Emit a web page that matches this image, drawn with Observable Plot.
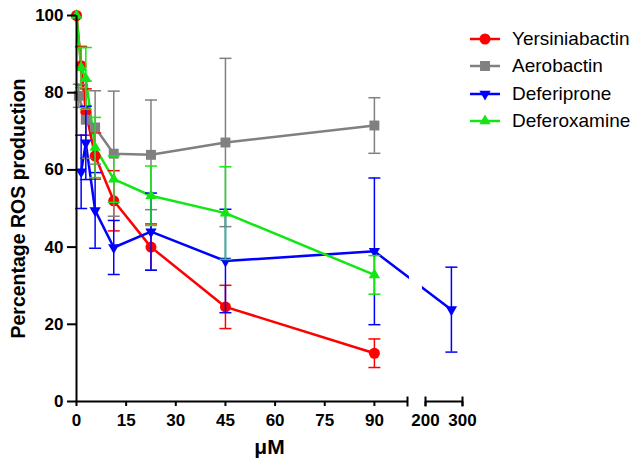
<!DOCTYPE html>
<html>
<head>
<meta charset="utf-8">
<script src="https://cdn.jsdelivr.net/npm/d3@7"></script>
<script src="https://cdn.jsdelivr.net/npm/@observablehq/plot@0.6"></script>
<style>
  body { margin: 0; background: #fff; font-family: "Liberation Sans", Arial, sans-serif; }
  #wrap { position: relative; width: 642px; height: 463px; overflow: hidden; }
  #legend { position: absolute; left: 468px; top: 25px; }
  .row { display: flex; align-items: center; height: 27.5px; font-size: 19px; color: #000; }
  .row svg { margin-right: 10px; }
</style>
</head>
<body>
<div id="wrap"><div id="legend"></div></div>
<script>
// ---- data ----
const seriesNames = ["Yersiniabactin", "Aerobactin", "Deferiprone", "Deferoxamine"];

const yersConc = [0, 1.40625, 2.8125, 5.625, 11.25, 22.5, 45, 90];
const yersVal  = [100, 87, 75, 63.6, 52, 40, 24.5, 12.5];
const yersErr  = [0, 5, 6, 6, 7.8, 6, 5.6, 3.7];

const aeroConc = [0.7, 2.8125, 5.625, 11.25, 22.5, 45, 90];
const aeroVal  = [79.2, 73, 71, 64.2, 63.9, 67.1, 71.5];
const aeroErr  = [3, 10, 9.5, 16.2, 14.2, 21.8, 7.2];

const defpConc = [1.40625, 2.8125, 5.625, 11.25, 22.5, 45, 90, 270];
const defpVal  = [59.5, 67, 49.5, 39.9, 44, 36.4, 38.9, 23.8];
const defpErr  = [9.5, 9.5, 9.8, 7, 10, 13.4, 19, 11];

const defoConc = [0, 1.40625, 2.8125, 5.625, 11.25, 22.5, 45, 90];
const defoVal  = [100, 86.5, 83.7, 65.8, 57.6, 53.3, 48.8, 32.8];
const defoErr  = [0, 5.2, 8, 7.8, 6, 7.7, 12, 5];

const xTicks = [0, 15, 30, 45, 60, 75, 90, 200, 300];
const yTicks = [0, 20, 40, 60, 80, 100];
const xDomain = [0, 100, 200, 300];           // broken axis: 0–100 | 200–300
const axisSegments = [{a: 0, b: 100}, {a: 200, b: 300}];
const segmentEnds = [100, 200, 300];
const breakGap = [{a: 111, b: 183}];

// ---- styles ----
const colors = ["#ff0000", "#808080", "#0000ff", "#14e614"];
const symbols = ["circle", "square", "triangle", "triangle"];
const rotations = [0, 0, 180, 0];
const radii = [5.5, 5.6, 4.2, 4.2];

const hLine = {draw(ctx, size) { const r = Math.sqrt(size / Math.PI); ctx.moveTo(-r, 0); ctx.lineTo(r, 0); }};
const vLine = {draw(ctx, size) { const r = Math.sqrt(size / Math.PI); ctx.moveTo(0, -r); ctx.lineTo(0, r); }};

function rows(conc, val, err) {
  return conc.map((c, i) => ({x: c, y: val[i], e: err[i]}));
}
const series = [
  rows(yersConc, yersVal, yersErr),
  rows(aeroConc, aeroVal, aeroErr),
  rows(defpConc, defpVal, defpErr),
  rows(defoConc, defoVal, defoErr)
];

const marks = [];
series.forEach((d, i) => {
  marks.push(Plot.line(d, {x: "x", y: "y", stroke: colors[i], strokeWidth: 2.5}));
});
// gap in the line where the axis is broken
marks.push(Plot.rect(breakGap, {x1: "a", x2: "b", fill: "white"}));
series.forEach((d, i) => {
  const withErr = d.filter(r => r.e > 0);
  marks.push(Plot.ruleX(withErr, {x: "x", y1: r => r.y - r.e, y2: r => r.y + r.e, stroke: colors[i], strokeWidth: 1.5}));
  marks.push(Plot.dot(withErr, {x: "x", y: r => r.y - r.e, symbol: hLine, r: 6, fill: "none", stroke: colors[i], strokeWidth: 1.5}));
  marks.push(Plot.dot(withErr, {x: "x", y: r => r.y + r.e, symbol: hLine, r: 6, fill: "none", stroke: colors[i], strokeWidth: 1.5}));
  marks.push(Plot.dot(d, {x: "x", y: "y", symbol: symbols[i], r: radii[i], fill: colors[i], stroke: "none", rotate: rotations[i]}));
});

// axes
marks.push(Plot.ruleX([0], {y1: 0, y2: 100, stroke: "black", strokeWidth: 2}));
marks.push(Plot.ruleY(axisSegments, {x1: "a", x2: "b", y: 0, stroke: "black", strokeWidth: 2}));
marks.push(Plot.dot(segmentEnds, {x: d => d, y: 0, symbol: vLine, r: 5, fill: "none", stroke: "black", strokeWidth: 2}));
marks.push(Plot.axisY({ticks: yTicks, tickSize: 9, tickPadding: 4, strokeWidth: 2, label: null, fontSize: 17, fontWeight: "bold"}));
marks.push(Plot.axisX({ticks: xTicks, tickSize: 5, tickPadding: 7, strokeWidth: 2, label: null, fontSize: 17, fontWeight: "bold"}));
marks.push(Plot.text(["μM"], {frameAnchor: "bottom", dy: 52, fontSize: 21, fontWeight: "bold"}));
marks.push(Plot.text(["Percentage ROS production"], {frameAnchor: "left", textAnchor: "middle", dx: -58, rotate: -90, fontSize: 19.5, fontWeight: "bold"}));

const chart = Plot.plot({
  width: 642,
  height: 463,
  marginLeft: 76,
  marginRight: 180,
  marginTop: 15,
  marginBottom: 62,
  style: {fontFamily: "'Liberation Sans', Arial, sans-serif", color: "black", background: "white", overflow: "visible"},
  x: {type: "linear", domain: xDomain, range: [76, 407, 425, 462], axis: null},
  y: {domain: [0, 100], axis: null},
  marks
});
chart.style.position = "absolute";
chart.style.left = "0";
chart.style.top = "0";
document.getElementById("wrap").prepend(chart);

// legend
const legend = d3.select("#legend");
seriesNames.forEach((name, i) => {
  const row = legend.append("div").attr("class", "row");
  const svg = row.append("svg").attr("width", 34).attr("height", 20);
  svg.append("line").attr("x1", 2).attr("x2", 32).attr("y1", 10).attr("y2", 10)
    .attr("stroke", colors[i]).attr("stroke-width", 2.5);
  const typ = {circle: d3.symbolCircle, square: d3.symbolSquare, triangle: d3.symbolTriangle}[symbols[i]];
  svg.append("path").attr("d", d3.symbol(typ, radii[i] * radii[i] * Math.PI)())
    .attr("transform", `translate(17,10) rotate(${rotations[i]})`).attr("fill", colors[i]);
  row.append("span").text(name);
});
</script>
</body>
</html>
